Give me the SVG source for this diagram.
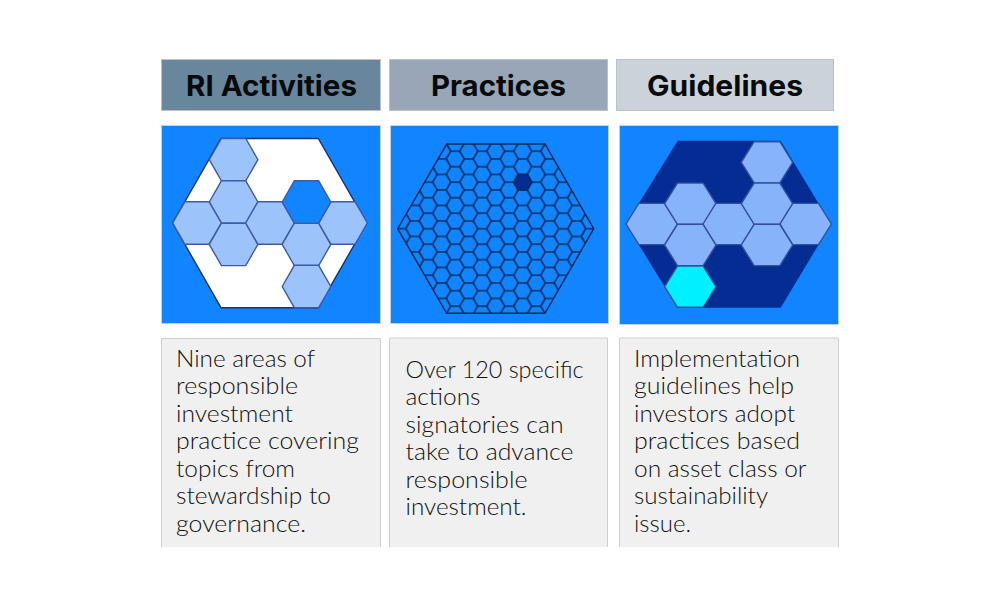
<svg xmlns="http://www.w3.org/2000/svg" width="1000" height="609" viewBox="0 0 1000 609">
<style>
.h{stroke:#b9c2cc;stroke-width:1}
.ht{font-family:"Inter","Lato","Liberation Sans",sans-serif;font-weight:700;font-size:29px;fill:#0a0a0a}
.img{fill:#1185ff;stroke:#b8d4f0;stroke-width:1}
.b{fill:#f0f0f0}
.e{fill:none;stroke:#cfcfcf;stroke-width:1}
.t{font-family:"Lato","Liberation Sans",sans-serif;font-weight:300;font-size:24px;fill:#111}
.a{fill:#9dc3fb;stroke:#3f5aa6;stroke-width:1.4}
.c{fill:#86b3f9;stroke:#33509f;stroke-width:1.4}
</style>
<defs>
<polygon id="s1" points="-24.3,0 -12.15,-21.2 12.15,-21.2 24.3,0 12.15,21.2 -12.15,21.2"/>
<polygon id="s3" points="-25.7,0 -12.85,-20.6 12.85,-20.6 25.7,0 12.85,20.6 -12.85,20.6"/>
<pattern id="grid" patternUnits="userSpaceOnUse" width="27" height="15.5" patternTransform="translate(495.7 228.7)">
<path d="M0 7.75H4.5L9 0H18L22.5 7.75H27M4.5 7.75L9 15.5H18L22.5 7.75" fill="none" stroke="#082a5c" stroke-width="1.6"/>
</pattern>
</defs>
<rect width="1000" height="609" fill="#fff"/>
<g id="col-ri-activities">
<rect class="h" x="161.5" y="59.5" width="219" height="51" fill="#68879c"/>
<text class="ht" x="186" y="95.5" textLength="171" lengthAdjust="spacingAndGlyphs">RI Activities</text>
<rect class="img" x="161.5" y="125.5" width="219" height="198"/>
<polygon points="221,138.5 318.3,138.5 366.7,223 318.3,307.7 221,307.7 172.7,223" fill="#fff" stroke="#1a3560" stroke-width="1.4"/>
<g class="a">
<use href="#s1" x="233.6" y="159.7"/>
<use href="#s1" x="233.6" y="202"/>
<use href="#s1" x="197" y="223"/>
<use href="#s1" x="233.6" y="244.4"/>
<use href="#s1" x="270" y="223"/>
<use href="#s1" x="306.5" y="244.4"/>
<use href="#s1" x="343" y="223"/>
<use href="#s1" x="306.5" y="286.5"/>
<use href="#s1" x="306.5" y="202" style="fill:#1185ff"/>
</g>
<rect class="b" x="161.5" y="338" width="219" height="209"/>
<path class="e" d="M161.5 547V338.5H380.5V547"/>
<text class="t" x="176" y="366.7" textLength="139" lengthAdjust="spacingAndGlyphs">Nine areas of</text>
<text class="t" x="176" y="394.2" textLength="122" lengthAdjust="spacingAndGlyphs">responsible</text>
<text class="t" x="176" y="421.7" textLength="117" lengthAdjust="spacingAndGlyphs">investment</text>
<text class="t" x="176" y="449.2" textLength="183" lengthAdjust="spacingAndGlyphs">practice covering</text>
<text class="t" x="176" y="476.7" textLength="119" lengthAdjust="spacingAndGlyphs">topics from</text>
<text class="t" x="176" y="504.2" textLength="155" lengthAdjust="spacingAndGlyphs">stewardship to</text>
<text class="t" x="176" y="531.7" textLength="130" lengthAdjust="spacingAndGlyphs">governance.</text>
</g>
<g id="col-practices">
<rect class="h" x="389.5" y="59.5" width="218" height="51" fill="#98a6b8"/>
<text class="ht" x="431" y="95.5" textLength="135" lengthAdjust="spacingAndGlyphs">Practices</text>
<rect class="img" x="390.5" y="125.5" width="218" height="198"/>
<polygon points="446.7,144 545,144 593.7,228.7 545,313.3 446.7,313.3 397.7,228.7" fill="url(#grid)" stroke="#082a5c" stroke-width="1.5"/>
<polygon points="513.7,182.2 518.2,174.45 527.2,174.45 531.7,182.2 527.2,189.95 518.2,189.95" fill="#042c92" stroke="#082a5c" stroke-width="1.5"/>
<rect class="b" x="389.5" y="338" width="218" height="209"/>
<path class="e" d="M389.5 547V338H607.5V547"/>
<text class="t" x="405.5" y="377.7" textLength="178" lengthAdjust="spacingAndGlyphs">Over 120 specific</text>
<text class="t" x="405.5" y="405.2" textLength="75" lengthAdjust="spacingAndGlyphs">actions</text>
<text class="t" x="405.5" y="432.7" textLength="158" lengthAdjust="spacingAndGlyphs">signatories can</text>
<text class="t" x="405.5" y="460.2" textLength="168" lengthAdjust="spacingAndGlyphs">take to advance</text>
<text class="t" x="405.5" y="487.7" textLength="122" lengthAdjust="spacingAndGlyphs">responsible</text>
<text class="t" x="405.5" y="515.2" textLength="121" lengthAdjust="spacingAndGlyphs">investment.</text>
</g>
<g id="col-guidelines">
<rect class="h" x="616.5" y="59.5" width="217" height="51" fill="#ccd2da"/>
<text class="ht" x="647" y="95.5" textLength="156" lengthAdjust="spacingAndGlyphs">Guidelines</text>
<rect class="img" x="619.5" y="125.5" width="219" height="199"/>
<polygon points="677.7,140.7 780.7,140.7 831,224 780.7,307.7 677.7,307.7 626,224" fill="#042c92"/>
<g class="c">
<use href="#s3" x="651.7" y="224"/>
<use href="#s3" x="690.3" y="203.7"/>
<use href="#s3" x="690.3" y="245"/>
<use href="#s3" x="728.7" y="224"/>
<use href="#s3" x="767" y="162.3"/>
<use href="#s3" x="767" y="203.7"/>
<use href="#s3" x="767" y="245"/>
<use href="#s3" x="805.7" y="224"/>
<use href="#s3" x="690.3" y="286.7" style="fill:#00f0ff"/>
</g>
<rect class="b" x="619.5" y="338" width="219" height="209"/>
<path class="e" d="M619.5 547V338H838.5V547"/>
<text class="t" x="634" y="366.7" textLength="166" lengthAdjust="spacingAndGlyphs">Implementation</text>
<text class="t" x="634" y="394.2" textLength="160" lengthAdjust="spacingAndGlyphs">guidelines help</text>
<text class="t" x="634" y="421.7" textLength="161" lengthAdjust="spacingAndGlyphs">investors adopt</text>
<text class="t" x="634" y="449.2" textLength="166" lengthAdjust="spacingAndGlyphs">practices based</text>
<text class="t" x="634" y="476.7" textLength="172.5" lengthAdjust="spacingAndGlyphs">on asset class or</text>
<text class="t" x="634" y="504.2" textLength="134" lengthAdjust="spacingAndGlyphs">sustainability</text>
<text class="t" x="634" y="531.7" textLength="57" lengthAdjust="spacingAndGlyphs">issue.</text>
</g>
</svg>
